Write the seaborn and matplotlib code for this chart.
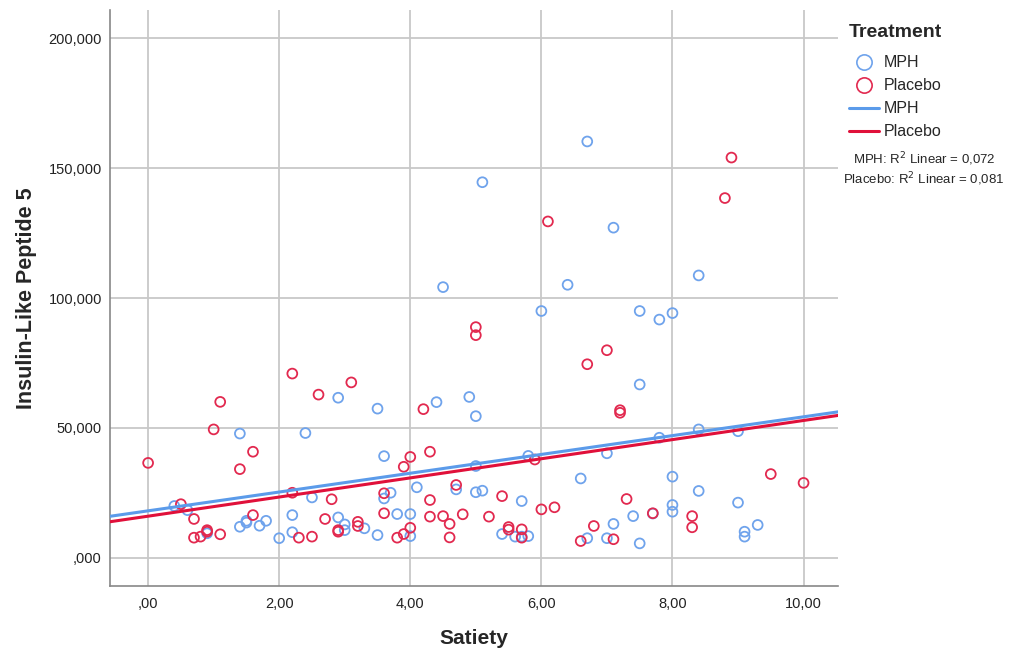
import numpy as np
import pandas as pd
import seaborn as sns
import matplotlib.pyplot as plt
from matplotlib.lines import Line2D

# satiety / insulin-like peptide 5 values
mph_x = [0.4, 0.6, 0.9, 1.4, 1.4, 1.5, 1.5, 1.7, 1.8, 2.0, 2.2, 2.2, 2.4, 2.5, 2.9, 2.9,
         3.0, 3.0, 3.3, 3.5, 3.5, 3.6, 3.6, 3.7, 3.8, 4.0, 4.0, 4.1, 4.4, 4.5, 4.7, 4.9,
         5.0, 5.0, 5.0, 5.1, 5.1, 5.4, 5.6, 5.7, 5.7, 5.8, 5.8, 6.0, 6.4, 6.6, 6.7, 6.7,
         7.0, 7.0, 7.1, 7.1, 7.4, 7.5, 7.5, 7.5, 7.7, 7.8, 7.8, 8.0, 8.0, 8.0, 8.0, 8.4,
         8.4, 8.4, 9.0, 9.0, 9.1, 9.1, 9.3]
mph_y = [19900, 18300, 9400, 47800, 11900, 13500, 14200, 12300, 14200, 7500, 16400, 9800,
         48000, 23200, 61600, 15500, 12800, 10600, 11300, 57400, 8700, 39100, 22800, 25000,
         16800, 16800, 8300, 27100, 59900, 104200, 26300, 61900, 54500, 35300, 25200, 144600,
         25800, 9100, 8100, 21800, 8100, 39200, 8300, 95000, 105100, 30500, 160300, 7500,
         40200, 7500, 127100, 13000, 16000, 95000, 66700, 5500, 17000, 91700, 46200, 94200,
         31200, 20300, 17700, 108700, 49400, 25700, 48700, 21200, 10000, 8100, 12600]

placebo_x = [0.0, 0.5, 0.7, 0.7, 0.8, 0.9, 0.9, 1.0, 1.1, 1.1, 1.4, 1.6, 1.6, 2.2, 2.2, 2.3,
             2.5, 2.6, 2.7, 2.8, 2.9, 2.9, 3.1, 3.2, 3.2, 3.6, 3.6, 3.8, 3.9, 3.9, 4.0, 4.0,
             4.2, 4.3, 4.3, 4.3, 4.5, 4.6, 4.6, 4.7, 4.8, 5.0, 5.0, 5.2, 5.4, 5.5, 5.5, 5.7,
             5.7, 5.9, 6.0, 6.1, 6.2, 6.6, 6.7, 6.8, 7.0, 7.1, 7.2, 7.2, 7.3, 7.7, 8.3, 8.3,
             8.8, 8.9, 9.5, 10.0]
placebo_y = [36500, 20600, 14900, 7700, 8100, 10600, 10000, 49400, 60000, 9000, 34100, 40800,
             16400, 70900, 25000, 7700, 8100, 62800, 14900, 22500, 10600, 10000, 67500, 13800,
             12200, 24800, 17100, 7700, 35000, 9100, 38800, 11500, 57200, 40800, 22200, 15800,
             16000, 13000, 7800, 28000, 16700, 88800, 85700, 15800, 23700, 11800, 10800, 10900,
             7700, 37800, 18600, 129500, 19400, 6400, 74500, 12200, 79900, 7100, 56800, 55800,
             22600, 17100, 16000, 11700, 138500, 154100, 32200, 28800]

groups = ["MPH", "Placebo"]
r2_text = ["0,072", "0,081"]
x_ticks = [0, 2, 4, 6, 8, 10]
x_labels = [",00", "2,00", "4,00", "6,00", "8,00", "10,00"]
y_ticks = [0, 50000, 100000, 150000, 200000]
y_labels = [",000", "50,000", "100,000", "150,000", "200,000"]

df = pd.DataFrame({
    "Satiety": mph_x + placebo_x,
    "ILP5": mph_y + placebo_y,
    "Treatment": ["MPH"] * len(mph_x) + ["Placebo"] * len(placebo_x),
})

marker_cols = {"MPH": "#6FA3EC", "Placebo": "#E2294F"}
line_cols = {"MPH": "#5B9BEA", "Placebo": "#E0103A"}

sns.set_style("white")
plt.rcParams["font.family"] = ["Liberation Sans", "DejaVu Sans"]

fig = plt.figure(figsize=(10.1, 6.55), dpi=100)
ax = fig.add_axes([0.109, 0.105, 0.721, 0.880])
ax.set_xlim(-0.58, 10.53)
ax.set_ylim(-11000, 211000)

for g in groups:
    sub = df[df["Treatment"] == g]
    ax.scatter(sub["Satiety"], sub["ILP5"], s=50, facecolors="none",
               edgecolors=marker_cols[g], linewidths=1.3, zorder=3)

for g in groups:
    sub = df[df["Treatment"] == g]
    sns.regplot(data=sub, x="Satiety", y="ILP5", ax=ax, scatter=False, ci=None,
                truncate=False, line_kws={"color": line_cols[g], "lw": 2.2, "zorder": 4})

ax.set_xlim(-0.58, 10.53)
ax.set_ylim(-11000, 211000)
ax.set_xticks(x_ticks)
ax.set_xticklabels(x_labels)
ax.set_yticks(y_ticks)
ax.set_yticklabels(y_labels)
ax.grid(True, color="#C8C8C8", lw=1.3)
ax.set_axisbelow(True)
ax.tick_params(labelsize=10.5, colors="#222222", length=0)
ax.tick_params(axis="x", pad=8)
ax.tick_params(axis="y", pad=6)
for s in ["top", "right"]:
    ax.spines[s].set_visible(False)
for s in ["left", "bottom"]:
    ax.spines[s].set_color("#888888")
    ax.spines[s].set_linewidth(1.2)

ax.set_xlabel("Satiety", fontsize=15, fontweight="bold", labelpad=13)
ax.set_ylabel("Insulin-Like Peptide 5", fontsize=15.5, fontweight="bold", labelpad=8)

# legend title drawn separately so the gap below it matches
fig.text(0.840, 0.951, "Treatment", fontsize=14, fontweight="bold", ha="left", va="center")

handles = [Line2D([], [], ls="none", marker="o", markersize=11, markerfacecolor="none",
                  markeredgecolor=marker_cols[g], markeredgewidth=1.2) for g in groups]
handles += [Line2D([], [], color=line_cols[g], lw=2.2) for g in groups]
leg = ax.legend(handles, groups + groups, loc="upper left",
                bbox_to_anchor=(0.995, 0.946), frameon=False, fontsize=11.5,
                handlelength=1.9, handletextpad=0.3, labelspacing=0.5)

fig.text(0.915, 0.750, "MPH: R$^2$ Linear = " + r2_text[0], fontsize=9.5, ha="center")
fig.text(0.915, 0.720, "Placebo: R$^2$ Linear = " + r2_text[1], fontsize=9.5, ha="center")

fig.savefig("out.png", dpi=100)
